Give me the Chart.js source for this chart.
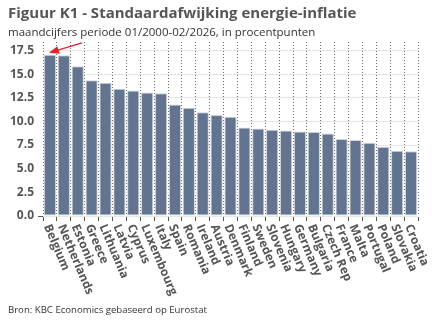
<!DOCTYPE html>
<html>
<head>
<meta charset="utf-8">
<script src="https://cdn.jsdelivr.net/npm/chart.js@4/dist/chart.umd.min.js"></script>
<style>
  html, body { margin: 0; padding: 0; background: #fff; }
  #wrap { position: relative; width: 432px; height: 334px; }
</style>
</head>
<body>
<div id="wrap"><canvas id="chart" width="432" height="334"></canvas></div>
<script>
// Data
const countries = ['Belgium', 'Netherlands', 'Estonia', 'Greece', 'Lithuania', 'Latvia', 'Cyprus',
    'Luxembourg', 'Italy', 'Spain', 'Romania', 'Ireland', 'Austria', 'Denmark', 'Finland', 'Sweden',
    'Slovenia', 'Hungary', 'Germany', 'Bulgaria', 'Czech Rep', 'France', 'Malta', 'Portugal',
    'Poland', 'Slovakia', 'Croatia'];
const stdDev = [17.04, 17.0, 15.84, 14.36, 14.08, 13.45, 13.27, 13.06, 12.99, 11.8, 11.44, 10.98,
    10.68, 10.5, 9.37, 9.26, 9.12, 9.05, 8.94, 8.87, 8.73, 8.13, 8.03, 7.75, 7.33, 6.9, 6.86];
const yTicks = [0, 2.5, 5, 7.5, 10, 12.5, 15, 17.5];

const title = 'Figuur K1 - Standaardafwijking energie-inflatie';
const subtitle = 'maandcijfers periode 01/2000-02/2026, in procentpunten';
const source = 'Bron: KBC Economics gebaseerd op Eurostat';

const FONT = "'Open Sans', 'Noto Sans', sans-serif";
const GREY = '#555555';

// titles, rotated country labels, source line and red arrow
const decorations = {
    id: 'decorations',
    afterDatasetsDraw(chart) {
        const ctx = chart.ctx;
        const x = chart.scales.x;
        const y = chart.scales.y;

        // red arrow pointing at the Belgian bar
        const tipX = x.getPixelForValue(0) - 1;
        const tipY = y.getPixelForValue(stdDev[0]) - 2;
        const tailX = tipX + 33, tailY = tipY - 10;
        const ang = Math.atan2(tipY - tailY, tipX - tailX);
        ctx.save();
        ctx.strokeStyle = '#e3232b';
        ctx.fillStyle = '#e3232b';
        ctx.lineWidth = 1.3;
        ctx.beginPath();
        ctx.moveTo(tailX, tailY);
        ctx.lineTo(tipX - 6 * Math.cos(ang), tipY - 6 * Math.sin(ang));
        ctx.stroke();
        ctx.beginPath();
        ctx.moveTo(tipX, tipY);
        ctx.lineTo(tipX - 10 * Math.cos(ang) + 4 * Math.sin(ang), tipY - 10 * Math.sin(ang) - 4 * Math.cos(ang));
        ctx.lineTo(tipX - 10 * Math.cos(ang) - 4 * Math.sin(ang), tipY - 10 * Math.sin(ang) + 4 * Math.cos(ang));
        ctx.closePath();
        ctx.fill();
        ctx.restore();
    },
    afterDraw(chart) {
        const ctx = chart.ctx;
        const x = chart.scales.x;
        const base = chart.chartArea.bottom;
        ctx.save();
        ctx.fillStyle = GREY;
        ctx.textAlign = 'left';
        ctx.textBaseline = 'middle';

        ctx.font = 'bold 15px ' + FONT;
        ctx.fillText(title, 8, 14);
        ctx.fillStyle = '#333';
        ctx.font = '11.5px ' + FONT;
        ctx.fillText(subtitle, 8, 33);
        ctx.font = '9.6px ' + FONT;
        ctx.fillText(source, 8, 310);

        // country labels, rotated clockwise
        ctx.fillStyle = GREY;
        ctx.font = 'bold 12px ' + FONT;
        countries.forEach((c, i) => {
            const px = x.getPixelForValue(i);
            ctx.save();
            ctx.translate(px - 3, base + 9);
            ctx.rotate(67 * Math.PI / 180);
            ctx.fillText(c, 0, 0);
            ctx.restore();
        });
        ctx.restore();
    }
};

new Chart(document.getElementById('chart'), {
    type: 'bar',
    data: {
        labels: countries,
        datasets: [{
            data: stdDev,
            backgroundColor: '#62748f',
            borderColor: '#cdd4de',
            borderWidth: 1,
            borderSkipped: false,
            barPercentage: 0.88,
            categoryPercentage: 1.0
        }]
    },
    options: {
        responsive: false,
        animation: false,
        layout: { padding: { left: 0, right: 14, top: 42, bottom: 0 } },
        plugins: {
            legend: { display: false },
            tooltip: { enabled: false }
        },
        scales: {
            x: {
                offset: true,
                grid: {
                    offset: true,
                    color: '#6d6d6d',
                    lineWidth: 1,
                    drawTicks: true,
                    tickLength: 5,
                    tickColor: '#555',
                    tickBorderDash: []
                },
                border: { display: true, color: 'rgba(0,0,0,0)', dash: [1, 2] },
                ticks: { display: false },
                afterFit(scale) { scale.height = 118; }
            },
            y: {
                min: 0,
                max: 18.4,
                afterBuildTicks(scale) { scale.ticks = yTicks.map(v => ({ value: v })); },
                grid: {
                    color: '#e6e6e6',
                    lineWidth: 1,
                    drawTicks: true,
                    tickLength: 5,
                    tickColor: ctx => (ctx.tick && ctx.tick.value === 0 ? '#555' : 'rgba(0,0,0,0)')
                },
                border: { display: false },
                ticks: {
                    color: GREY,
                    padding: 4,
                    font: { family: FONT, size: 12, weight: 'bold' },
                    callback: v => v.toFixed(1)
                },
                afterFit(scale) { scale.width = 43; }
            }
        }
    },
    plugins: [decorations]
});
</script>
</body>
</html>
